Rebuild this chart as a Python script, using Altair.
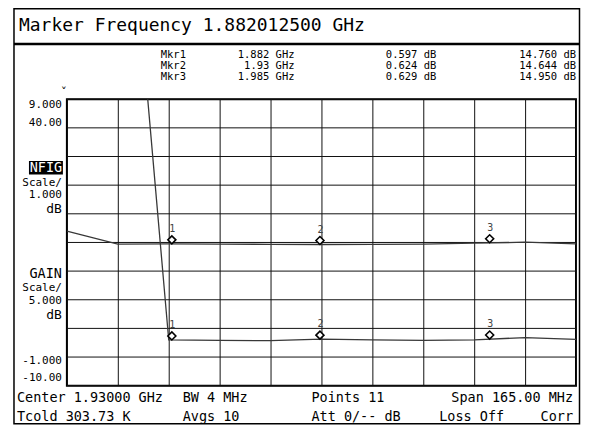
import altair as alt
import pandas as pd

# ---------------- data ----------------
freqs = [1.8475, 1.864, 1.8805, 1.897, 1.9135, 1.93, 1.9465, 1.963, 1.9795, 1.996, 2.0125]
gain_db = [16.96, 14.70, 14.76, 14.70, 14.68, 14.64, 14.66, 14.72, 14.88, 15.04, 14.76]
nfig_db = [22.5, 20.98, 0.597, 0.58, 0.57, 0.624, 0.60, 0.58, 0.60, 0.68, 0.62]

mkr_names = ["Mkr1", "Mkr2", "Mkr3"]
mkr_ids = ["1", "2", "3"]
mkr_freqs = [1.882, 1.93, 1.985]
mkr_freq_labels = ["1.882 GHz", "1.93 GHz", "1.985 GHz"]
mkr_nfig = [0.597, 0.624, 0.629]
mkr_gain = [14.760, 14.644, 14.950]

title_text = "Marker Frequency 1.882012500 GHz"
nfig_scale = [9.0, -1.0]      # top, bottom (1 dB/div)
gain_scale = [40.0, -10.0]    # top, bottom (5 dB/div)
nfig_ticks = [-1, 0, 1, 2, 3, 4, 5, 6, 7, 8, 9]
footer_row1 = ["Center 1.93000 GHz", "BW 4 MHz", "Points 11", "Span 165.00 MHz"]
footer_row2 = ["Tcold 303.73 K", "Avgs 10", "Att 0/-- dB", "Loss Off", "Corr"]

df = pd.DataFrame({"freq": freqs, "gain": gain_db, "nf": nfig_db})
dm = pd.DataFrame({"freq": mkr_freqs, "gain": mkr_gain, "nf": mkr_nfig, "id": mkr_ids})
dgx = pd.DataFrame({"freq": freqs})
dgy = pd.DataFrame({"v": nfig_ticks})

MONO = "DejaVu Sans Mono"
OX, OY = 67, 99   # page position of the plot origin
W, H = 510, 287

one = alt.Data(values=[{"k": 1}])


def txt(s, x, y, size, align="left", color="black"):
    return alt.Chart(one).mark_text(
        text=s, align=align, baseline="alphabetic", font=MONO, fontSize=size, color=color
    ).encode(x=alt.value(x - OX), y=alt.value(y - OY))


def box(x1, y1, x2, y2, fill=None, stroke=None, sw=1.0):
    kw = {}
    if fill is None:
        kw["fillOpacity"] = 0
        kw["fill"] = "white"
    else:
        kw["fill"] = fill
    if stroke is not None:
        kw["stroke"] = stroke
        kw["strokeWidth"] = sw
    return alt.Chart(one).mark_rect(**kw).encode(
        x=alt.value(x1 - OX), x2=alt.value(x2 - OX), y=alt.value(y1 - OY), y2=alt.value(y2 - OY)
    )


def hline(x1, x2, y, sw):
    return alt.Chart(one).mark_rule(color="black", strokeWidth=sw).encode(
        x=alt.value(x1 - OX), x2=alt.value(x2 - OX), y=alt.value(y - OY)
    )


xscale = alt.Scale(domain=[freqs[0], freqs[-1]], nice=False, zero=False)
nf_scale = alt.Scale(domain=[nfig_scale[1], nfig_scale[0]], nice=False, zero=False)
g_scale = alt.Scale(domain=[gain_scale[1], gain_scale[0]], nice=False, zero=False)

GRID = "#111111"
TRACE = "#383838"

grid_x = alt.Chart(dgx).mark_rule(color=GRID, strokeWidth=1, xOffset=0.5).encode(
    x=alt.X("freq:Q", scale=xscale, axis=None), y=alt.value(0), y2=alt.value(H))
grid_y = alt.Chart(dgy).mark_rule(color=GRID, strokeWidth=1).encode(
    y=alt.Y("v:Q", scale=nf_scale, axis=None), x=alt.value(0), x2=alt.value(W))

nf_line = alt.Chart(df).mark_line(clip=True, color=TRACE, strokeWidth=1.3).encode(
    x=alt.X("freq:Q", scale=xscale, axis=None),
    y=alt.Y("nf:Q", scale=nf_scale, axis=None),
)
nf_mk = alt.Chart(dm).mark_point(shape="diamond", size=64, filled=True, fill="white",
                                 stroke="black", strokeWidth=1.6, opacity=1,
                                 xOffset=-1.5, yOffset=-4).encode(
    x=alt.X("freq:Q", scale=xscale, axis=None), y=alt.Y("nf:Q", scale=nf_scale, axis=None))
nf_lbl = alt.Chart(dm).mark_text(font=MONO, fontSize=10, color="#444", baseline="middle",
                                 xOffset=-1, yOffset=-15).encode(
    x=alt.X("freq:Q", scale=xscale, axis=None), y=alt.Y("nf:Q", scale=nf_scale, axis=None),
    text="id:N")

g_line = alt.Chart(df).mark_line(clip=True, color=TRACE, strokeWidth=1.3).encode(
    x=alt.X("freq:Q", scale=xscale, axis=None),
    y=alt.Y("gain:Q", scale=g_scale, axis=None),
)
g_mk = alt.Chart(dm).mark_point(shape="diamond", size=64, filled=True, fill="white",
                                stroke="black", strokeWidth=1.6, opacity=1,
                                xOffset=-1.5, yOffset=-4).encode(
    x=alt.X("freq:Q", scale=xscale, axis=None), y=alt.Y("gain:Q", scale=g_scale, axis=None))
g_lbl = alt.Chart(dm).mark_text(font=MONO, fontSize=10, color="#444", baseline="middle",
                                xOffset=-1, yOffset=-15).encode(
    x=alt.X("freq:Q", scale=xscale, axis=None), y=alt.Y("gain:Q", scale=g_scale, axis=None),
    text="id:N")

nf_layer = alt.layer(grid_x, grid_y, nf_line, nf_mk, nf_lbl)
g_layer = alt.layer(g_line, g_mk, g_lbl)
data_layer = alt.layer(nf_layer, g_layer).resolve_scale(y="independent")

deco = [
    box(14, 8.5, 580.5, 424, stroke="black", sw=1.5),
    hline(14, 580.5, 43.8, 2.5),
    txt(title_text, 19, 31, 18),
    txt("\u02c7", 64, 97, 12, align="center"),
]
row_y = [58, 69, 80]
for i in range(3):
    deco.append(txt(mkr_names[i], 161, row_y[i], 10.5))
    deco.append(txt(mkr_freq_labels[i], 295, row_y[i], 10.5, align="right"))
    deco.append(txt(f"{mkr_nfig[i]:.3f} dB", 437, row_y[i], 10.5, align="right"))
    deco.append(txt(f"{mkr_gain[i]:.3f} dB", 577, row_y[i], 10.5, align="right"))

# left scale labels
deco += [
    txt(f"{nfig_scale[0]:.3f}", 62, 108.3, 11, align="right"),
    txt(f"{gain_scale[0]:.2f}", 62, 126, 11, align="right"),
    box(29, 161, 63, 174.5, fill="black"),
    txt("NFIG", 46, 172, 13.5, align="center", color="white"),
    txt("Scale/", 62, 185.6, 11, align="right"),
    txt("1.000", 62, 198, 11, align="right"),
    txt("dB", 62, 213, 13, align="right"),
    txt("GAIN", 62, 278.3, 13.5, align="right"),
    txt("Scale/", 62, 291.6, 11, align="right"),
    txt("5.000", 62, 303.8, 11, align="right"),
    txt("dB", 62, 318.8, 13, align="right"),
    txt(f"{nfig_scale[1]:.3f}", 62, 364, 11, align="right"),
    txt(f"{gain_scale[1]:.2f}", 62, 381.7, 11, align="right"),
]

# footer
deco += [
    txt(footer_row1[0], 17, 402, 13.5),
    txt(footer_row1[1], 183, 402, 13.5),
    txt(footer_row1[2], 312, 402, 13.5),
    txt(footer_row1[3], 574, 402, 13.5, align="right"),
    txt(footer_row2[0], 17, 421.5, 13.5),
    txt(footer_row2[1], 183, 421.5, 13.5),
    txt(footer_row2[2], 312, 421.5, 13.5),
    txt(footer_row2[3], 440, 421.5, 13.5),
    txt(footer_row2[4], 574, 421.5, 13.5, align="right"),
]

chart = alt.layer(data_layer, *deco).properties(
    width=W, height=H,
    padding={"left": OX - 8, "top": OY - 8, "right": 5, "bottom": 39},
    autosize=alt.AutoSizeParams(type="none"),
    background="white",
).configure_view(stroke="black", strokeWidth=2)

chart.save("out.html", embed_options={"renderer": "svg", "actions": False})
